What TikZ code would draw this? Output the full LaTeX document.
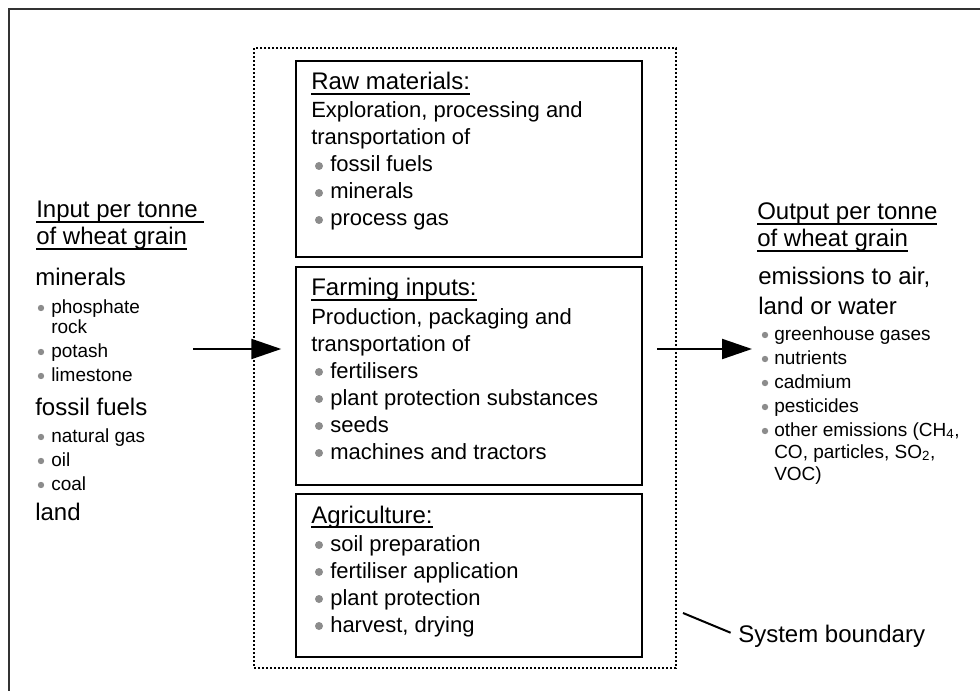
\documentclass[tikz,border=0pt]{standalone}
\usepackage{fontspec}
\setmainfont{Liberation Sans}
\usetikzlibrary{arrows.meta,fit}
\definecolor{dotgray}{HTML}{8C8C8C}
\definecolor{framegray}{HTML}{333333}
\newcommand\ulin[1]{\setbox0\hbox{#1}\rlap{\rule[-4pt]{\wd0}{2pt}}\box0}

\tikzset{
  stagebox/.style={draw, line width=1.1pt, inner sep=0pt},
  boundbox/.style={draw, line width=1.9pt, dash pattern=on 1.5pt off 1.5pt, inner sep=0pt},
  boxhead/.style={anchor=base west, inner sep=0pt, font=\fontsize{18}{21}\selectfont},
  boxtxt/.style={anchor=base west, inner sep=0pt, font=\fontsize{16.5}{20}\selectfont},
  sidebig/.style={anchor=base west, inner sep=0pt, font=\fontsize{18}{21}\selectfont},
  sidesmall/.style={anchor=base west, inner sep=0pt, font=\fontsize{14.25}{17}\selectfont},
  flowarrow/.style={line width=1.6pt, -{Triangle[length=22.5pt,width=15pt]}}
}

\begin{document}
\begin{tikzpicture}[x=0.75pt, y=-0.75pt]
  \useasboundingbox (0,0) rectangle (980,691);
  \draw[framegray, line width=1.5pt] (9,9) rectangle (990,700);

  % system boundary and the three stages
  \node[boundbox, fit={(254,48) (676,668)}] (boundary) {};
  \node[stagebox, fit={(296,61) (642,257)}] (raw) {};
  \node[stagebox, fit={(296,267) (642,485)}] (farm) {};
  \node[stagebox, fit={(296,494) (642,657)}] (agri) {};

  \node[boxhead] (raw-h) at (311,90) {\ulin{Raw materials:}};
  \node[boxtxt] (raw-1) at (311,118) {Exploration, processing and};
  \node[boxtxt] (raw-2) at (311,145) {transportation of};
  \foreach \yy/\tx in {172/fossil fuels, 199/minerals, 226/process gas}{
    \fill[dotgray] (319,\yy-6) circle (4);
    \node[boxtxt] (raw-\yy) at (330,\yy) {\tx};
  }

  \node[boxhead] (farm-h) at (311,296) {\ulin{Farming inputs:}};
  \node[boxtxt] (farm-1) at (311,324) {Production, packaging and};
  \node[boxtxt] (farm-2) at (311,351) {transportation of};
  \foreach \yy/\tx in {378/fertilisers, 405/plant protection substances, 432/seeds, 459/machines and tractors}{
    \fill[dotgray] (319,\yy-6) circle (4);
    \node[boxtxt] (farm-\yy) at (330,\yy) {\tx};
  }

  \node[boxhead] (agri-h) at (311,523) {\ulin{Agriculture:}};
  \foreach \yy/\tx in {551/soil preparation, 578/fertiliser application, 605/plant protection, 632/{harvest, drying}}{
    \fill[dotgray] (319,\yy-6) circle (4);
    \node[boxtxt] (agri-\yy) at (330,\yy) {\tx};
  }

  % inputs
  \node[sidebig] (in-h1) at (36,218) {\ulin{Input per tonne\ }};
  \node[sidebig] (in-h2) at (36,245) {\ulin{of wheat grain}};
  \foreach \yy/\tx in {286/minerals, 415/fossil fuels, 520/land}
    \node[sidebig] (in-\yy) at (35,\yy) {\tx};
  \foreach \yy/\tx in {313/phosphate, 357/potash, 381/limestone, 442/natural gas, 466/oil, 490/coal}{
    \fill[dotgray] (41,\yy-5) circle (3.2);
    \node[sidesmall] (in-\yy) at (51,\yy) {\tx};
  }
  \node[sidesmall] (in-333) at (51,333) {rock};

  % outputs
  \node[sidebig] (out-h1) at (757,220) {\ulin{Output per tonne}};
  \node[sidebig] (out-h2) at (757,247) {\ulin{of wheat grain}};
  \node[sidebig] (out-285) at (758,285) {emissions to air,};
  \node[sidebig] (out-314) at (758,314) {land or water};
  \foreach \yy/\tx in {340/greenhouse gases, 364/nutrients, 388/cadmium, 412/pesticides, 436/{other emissions (CH\textsubscript{4},}}{
    \fill[dotgray] (765,\yy-5) circle (3.2);
    \node[sidesmall] (out-\yy) at (774,\yy) {\tx};
  }
  \node[sidesmall] (out-458) at (774,458) {CO, particles, SO\textsubscript{2},};
  \node[sidesmall] (out-480) at (774,480) {VOC)};

  % flows in and out
  \coordinate (inarr) at (193,349);
  \coordinate (outarr) at (752,349);
  \draw[flowarrow, shorten >=10.5pt] (inarr) -- (inarr -| farm.west);
  \draw[flowarrow, shorten <=11pt] (outarr -| farm.east) -- (outarr);

  \node[sidebig] (sysb) at (738,642) {System boundary};
  \coordinate (sb) at (683,613);
  \draw[line width=1.5pt, shorten >=6pt] (sb) -- (sysb.west);
\end{tikzpicture}
\end{document}
